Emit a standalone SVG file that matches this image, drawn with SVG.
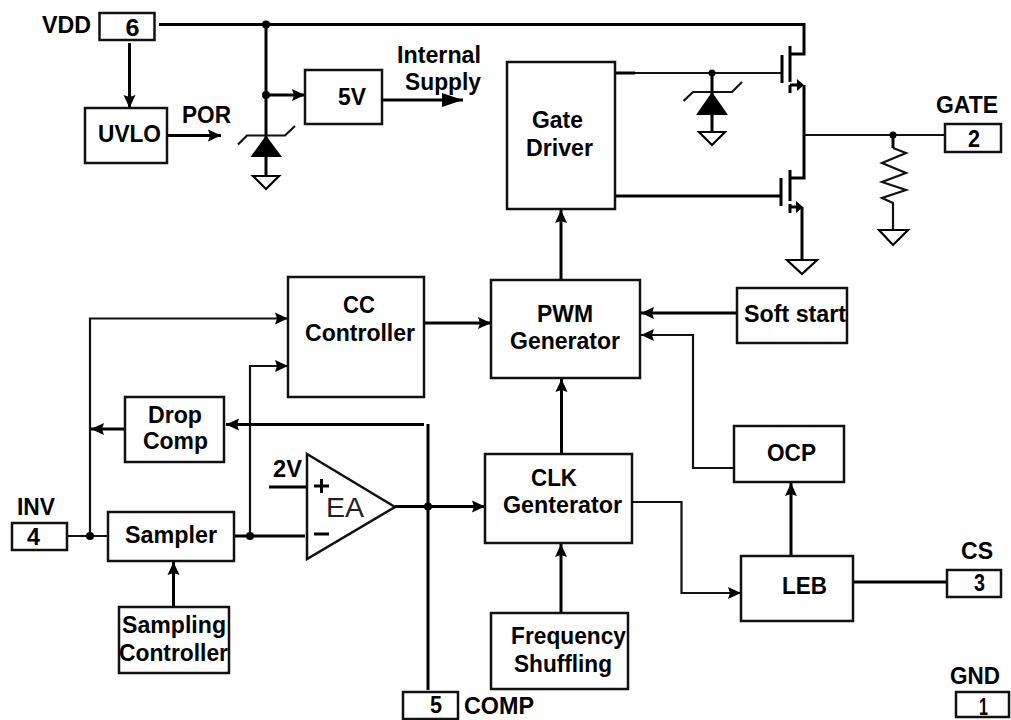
<svg xmlns="http://www.w3.org/2000/svg" width="1011" height="720" viewBox="0 0 1011 720">
<style>
text{font-family:"Liberation Sans",Arial,sans-serif;font-weight:bold;font-size:23px;fill:#000}
text.r{font-weight:normal;font-size:28px;fill:#222}
.b{fill:#fff;stroke:#111;stroke-width:2.5}
.w{fill:none;stroke:#000;stroke-width:3}
.t{fill:none;stroke:#111;stroke-width:2.2}
.a{marker-end:url(#arr)}
.g{fill:#fff;stroke:#000;stroke-width:2.2}
.f{fill:#000;stroke:none}
</style>
<defs>
<marker id="arr" markerUnits="userSpaceOnUse" markerWidth="14" markerHeight="14" refX="13" refY="7" orient="auto"><path d="M0,1 L13,7 L0,13 L2,7 Z" fill="#000"/></marker>
<marker id="big" markerUnits="userSpaceOnUse" markerWidth="22" markerHeight="16" refX="21" refY="8" orient="auto"><path d="M0,1 L21,8 L0,15 Z" fill="#000"/></marker>
</defs>
<rect width="1011" height="720" fill="#fff"/>
<g id="connectors">
<path class="w" d="M159,24.5H804V54H790"/>
<path class="w a" d="M129.5,43V108"/>
<path class="w" d="M266,24.5V176"/>
<path class="w a" d="M266,95H305"/>
<path class="w a" d="M167,135.5H221"/>
<path class="w" style="marker-end:url(#big)" d="M382,100H463"/>
<path class="w" d="M615,73H635"/>
<path class="t" d="M635,73H782"/>
<path class="w" d="M712,73V132"/>
<path class="w" d="M615,196H781"/>
<path class="w" d="M804,85V178H790"/>
<path class="t" d="M804,135H945"/>
<path class="w" d="M802,207V260"/>
<path class="w" d="M893,135V148"/>
<path class="t" d="M893,148L906,153L882,163L906,173L882,182L906,190L882,198L893,203V230"/>
<path class="t a" d="M90,536V318.5H288"/>
<path class="t a" d="M250,536V366H288"/>
<path class="w a" d="M424,323H491"/>
<path class="w a" d="M125,429H91"/>
<path class="w" d="M428,424V690"/>
<path class="w a" d="M424,424.5H226"/>
<path class="w a" d="M395,506.5H485"/>
<path class="t" d="M67,536H108"/>
<path class="w" d="M234,536H305"/>
<path class="w" d="M269,487H307"/>
<path class="w a" d="M173.5,607V562"/>
<path class="w a" d="M561,280V210"/>
<path class="w a" d="M561.5,454V379"/>
<path class="w a" d="M737,313H641"/>
<path class="t a" d="M734,468H693V335H641"/>
<path class="w a" d="M791,556V483"/>
<path class="t a" d="M632,502H681.5V593H741"/>
<path class="w" d="M853,582H947"/>
<path class="w a" d="M561,613V544"/>
<circle class="f" cx="266" cy="24.5" r="4"/>
<circle class="f" cx="266" cy="95" r="4"/>
<circle class="f" cx="712" cy="73" r="3.5"/>
<circle class="f" cx="893" cy="135" r="3.5"/>
<circle class="f" cx="90" cy="536" r="4"/>
<circle class="f" cx="250" cy="536" r="4"/>
<circle class="f" cx="428" cy="506.5" r="4"/>
</g>
<g id="pin6"><rect class="b" x="99.5" y="13" width="55" height="27"/><text x="125.5" y="36" textLength="14" lengthAdjust="spacingAndGlyphs">6</text><text x="42" y="33" textLength="49" lengthAdjust="spacingAndGlyphs">VDD</text></g>
<g id="uvlo"><rect class="b" x="85" y="108" width="82" height="55"/><text x="98" y="142" textLength="63" lengthAdjust="spacingAndGlyphs">UVLO</text></g>
<text id="por" x="182" y="123" textLength="49" lengthAdjust="spacingAndGlyphs">POR</text>
<g id="reg5v"><rect class="b" x="305" y="70" width="77" height="54"/><text x="338" y="105" textLength="28" lengthAdjust="spacingAndGlyphs">5V</text></g>
<g id="internal-supply"><text x="397" y="63" textLength="84" lengthAdjust="spacingAndGlyphs">Internal</text><text x="405" y="90" textLength="76" lengthAdjust="spacingAndGlyphs">Supply</text></g>
<g id="zener1"><path class="t" d="M238,144.5L247,135.5H285L295,126"/><polygon class="f" points="266,135.5 282,157 250.5,157"/><polygon class="g" points="253,176 279,176 266,189"/></g>
<g id="gate-driver"><rect class="b" x="507" y="62" width="108" height="147"/><text x="532" y="128" textLength="51" lengthAdjust="spacingAndGlyphs">Gate</text><text x="526" y="156" textLength="67" lengthAdjust="spacingAndGlyphs">Driver</text></g>
<g id="zener2"><path class="t" d="M683.5,101L693,92H732L742,82"/><polygon class="f" points="712,92 728,115 696,115"/><polygon class="g" points="699,132 725,132 712,145"/></g>
<g id="mos-high"><path class="w" d="M782,55V83M790,46V82M790,85V93"/><path class="w" d="M790,85H799"/><polygon class="f" points="797,79 804,85 797,91"/></g>
<g id="mos-low"><path class="w" d="M781,178V206M790,170V201M790,204V213"/><path class="w" d="M790,207H799"/><polygon class="f" points="796,201 803,207 796,213"/></g>
<polygon id="gnd-low" class="g" points="787,260 817,260 802,274"/>
<polygon id="gnd-res" class="g" points="879,230 908,230 893,245"/>
<g id="pin2"><rect class="b" x="945" y="124" width="56" height="28"/><text x="968" y="147" textLength="12" lengthAdjust="spacingAndGlyphs">2</text><text x="936" y="113" textLength="62" lengthAdjust="spacingAndGlyphs">GATE</text></g>
<g id="cc"><rect class="b" x="288" y="277" width="136" height="120"/><text x="343" y="313" textLength="32" lengthAdjust="spacingAndGlyphs">CC</text><text x="305" y="341" textLength="110" lengthAdjust="spacingAndGlyphs">Controller</text></g>
<g id="pwm"><rect class="b" x="491" y="280" width="149" height="98"/><text x="537" y="322" textLength="56" lengthAdjust="spacingAndGlyphs">PWM</text><text x="510" y="349" textLength="110" lengthAdjust="spacingAndGlyphs">Generator</text></g>
<g id="soft"><rect class="b" x="737" y="288" width="110" height="55"/><text x="744" y="322" textLength="102" lengthAdjust="spacingAndGlyphs">Soft start</text></g>
<g id="ocp"><rect class="b" x="734" y="426" width="110" height="56"/><text x="767" y="461" textLength="49" lengthAdjust="spacingAndGlyphs">OCP</text></g>
<g id="drop"><rect class="b" x="125" y="397" width="99" height="65"/><text x="148" y="423" textLength="54" lengthAdjust="spacingAndGlyphs">Drop</text><text x="143" y="449" textLength="65" lengthAdjust="spacingAndGlyphs">Comp</text></g>
<g id="clk"><rect class="b" x="485" y="454" width="147" height="89"/><text x="531" y="486" textLength="46" lengthAdjust="spacingAndGlyphs">CLK</text><text x="503" y="513" textLength="119" lengthAdjust="spacingAndGlyphs">Genterator</text></g>
<g id="leb"><rect class="b" x="741" y="556" width="112" height="65"/><text x="782" y="594" textLength="45" lengthAdjust="spacingAndGlyphs">LEB</text></g>
<g id="pin3"><rect class="b" x="947" y="570" width="54" height="27"/><text x="974" y="591" textLength="11" lengthAdjust="spacingAndGlyphs">3</text><text x="961" y="559" textLength="32" lengthAdjust="spacingAndGlyphs">CS</text></g>
<g id="pin1"><rect class="b" x="956" y="692" width="53" height="25"/><text x="979" y="715" textLength="9" lengthAdjust="spacingAndGlyphs">1</text><text x="950" y="684" textLength="50" lengthAdjust="spacingAndGlyphs">GND</text></g>
<g id="freq"><rect class="b" x="491" y="613" width="137" height="76"/><text x="511" y="644" textLength="115" lengthAdjust="spacingAndGlyphs">Frequency</text><text x="514" y="672" textLength="98" lengthAdjust="spacingAndGlyphs">Shuffling</text></g>
<g id="pin5"><rect class="b" x="403" y="692" width="55" height="27"/><text x="430" y="713" textLength="12" lengthAdjust="spacingAndGlyphs">5</text><text x="464" y="714" textLength="70" lengthAdjust="spacingAndGlyphs">COMP</text></g>
<g id="pin4"><rect class="b" x="12" y="523" width="55" height="27"/><text x="27" y="545" textLength="13" lengthAdjust="spacingAndGlyphs">4</text><text x="17" y="515" textLength="38" lengthAdjust="spacingAndGlyphs">INV</text></g>
<g id="sampler"><rect class="b" x="108" y="512" width="126" height="49"/><text x="125" y="543" textLength="92" lengthAdjust="spacingAndGlyphs">Sampler</text></g>
<g id="sampling"><rect class="b" x="119" y="607" width="110" height="66"/><text x="122" y="633" textLength="104" lengthAdjust="spacingAndGlyphs">Sampling</text><text x="119" y="661" textLength="109" lengthAdjust="spacingAndGlyphs">Controller</text></g>
<g id="ea"><polygon class="b" points="307,454 395,507 307,559"/><text class="r" x="326" y="517" textLength="38" lengthAdjust="spacingAndGlyphs">EA</text><path class="w" d="M314,486H329M321.5,479V493M314,534H329"/></g>
<text id="v2" x="273" y="477" textLength="29" lengthAdjust="spacingAndGlyphs">2V</text>
</svg>
